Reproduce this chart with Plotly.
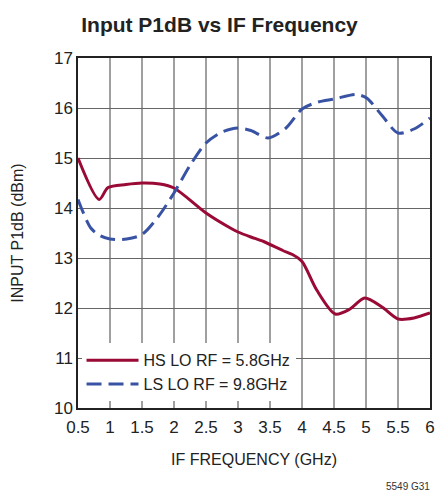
import plotly.graph_objects as go

hs_x = [0.5, 0.83, 0.97, 1.25, 1.5, 1.78, 2.0, 2.5, 2.88, 3.0, 3.2, 3.4, 3.7, 3.85, 4.0, 4.23, 4.52, 4.75, 4.98, 5.25, 5.5, 5.75, 6.0]
hs_y = [15.0, 14.17, 14.41, 14.47, 14.5, 14.48, 14.4, 13.9, 13.6, 13.52, 13.42, 13.33, 13.15, 13.07, 12.93, 12.36, 11.88, 11.98, 12.2, 12.02, 11.78, 11.8, 11.9]

ls_x = [0.5, 0.7, 0.84, 1.0, 1.26, 1.5, 1.75, 2.0, 2.25, 2.5, 2.75, 3.0, 3.2, 3.47, 3.75, 4.0, 4.25, 4.5, 4.85, 5.01, 5.25, 5.5, 5.75, 6.0]
ls_y = [14.17, 13.6, 13.45, 13.38, 13.38, 13.47, 13.82, 14.3, 14.85, 15.3, 15.52, 15.6, 15.55, 15.4, 15.6, 15.98, 16.12, 16.18, 16.27, 16.2, 15.85, 15.5, 15.58, 15.8]

x_ticks = [0.5, 1, 1.5, 2, 2.5, 3, 3.5, 4, 4.5, 5, 5.5, 6]
x_labels = ["0.5", "1", "1.5", "2", "2.5", "3", "3.5", "4", "4.5", "5", "5.5", "6"]
y_ticks = [10, 11, 12, 13, 14, 15, 16, 17]

FONT = "Liberation Sans Narrow, Liberation Sans, Arial, sans-serif"

fig = go.Figure()
fig.add_trace(go.Scatter(x=hs_x, y=hs_y, mode="lines", name="HS LO RF = 5.8GHz",
                         line=dict(color="#9a0a36", width=3, shape="spline", smoothing=0.8)))
fig.add_trace(go.Scatter(x=ls_x, y=ls_y, mode="lines", name="LS LO RF = 9.8GHz",
                         line=dict(color="#3853a4", width=3, shape="spline", smoothing=0.8, dash="15px,7px")))

fig.update_layout(
    width=439, height=491,
    margin=dict(l=78, r=9, t=58, b=83, autoexpand=False),
    paper_bgcolor="white", plot_bgcolor="white",
    font=dict(family=FONT, size=17, color="#222"),
    title=dict(text="<b>Input P1dB vs IF Frequency</b>", x=0.5, xanchor="center",
               y=0.949, yanchor="middle", font=dict(family=FONT, size=21, color="#222")),
    showlegend=True,
    legend=dict(x=0.01, y=0.185, xanchor="left", yanchor="top", bgcolor="white",
                font=dict(family=FONT, size=16, color="#222"),
                tracegroupgap=0, itemwidth=52),
    annotations=[dict(text="5549 G31", xref="paper", yref="paper", x=1.006, y=-0.2257,
                      xanchor="right", yanchor="middle", showarrow=False,
                      font=dict(family=FONT, size=10, color="#333"))],
)
fig.update_xaxes(range=[0.5, 6], tickvals=x_ticks, ticktext=x_labels,
                 showgrid=True, gridcolor="#a0a0a0", gridwidth=1.5,
                 showline=True, linecolor="#222", linewidth=1.5, mirror=True,
                 ticks="", zeroline=False, automargin=False, ticklabelstandoff=3,
                 title=dict(text="IF FREQUENCY (GHz)", font=dict(family=FONT, size=16), standoff=18))
fig.update_yaxes(range=[10, 17], tickvals=y_ticks,
                 showgrid=True, gridcolor="#666666", gridwidth=1.2,
                 showline=True, linecolor="#222", linewidth=1.5, mirror=True,
                 ticks="", zeroline=False, automargin=False,
                 title=dict(text="INPUT P1dB (dBm)", font=dict(family=FONT, size=16), standoff=26))

fig.write_html("out.html", config={"displayModeBar": False},
               post_script="document.body.style.margin='0';")
